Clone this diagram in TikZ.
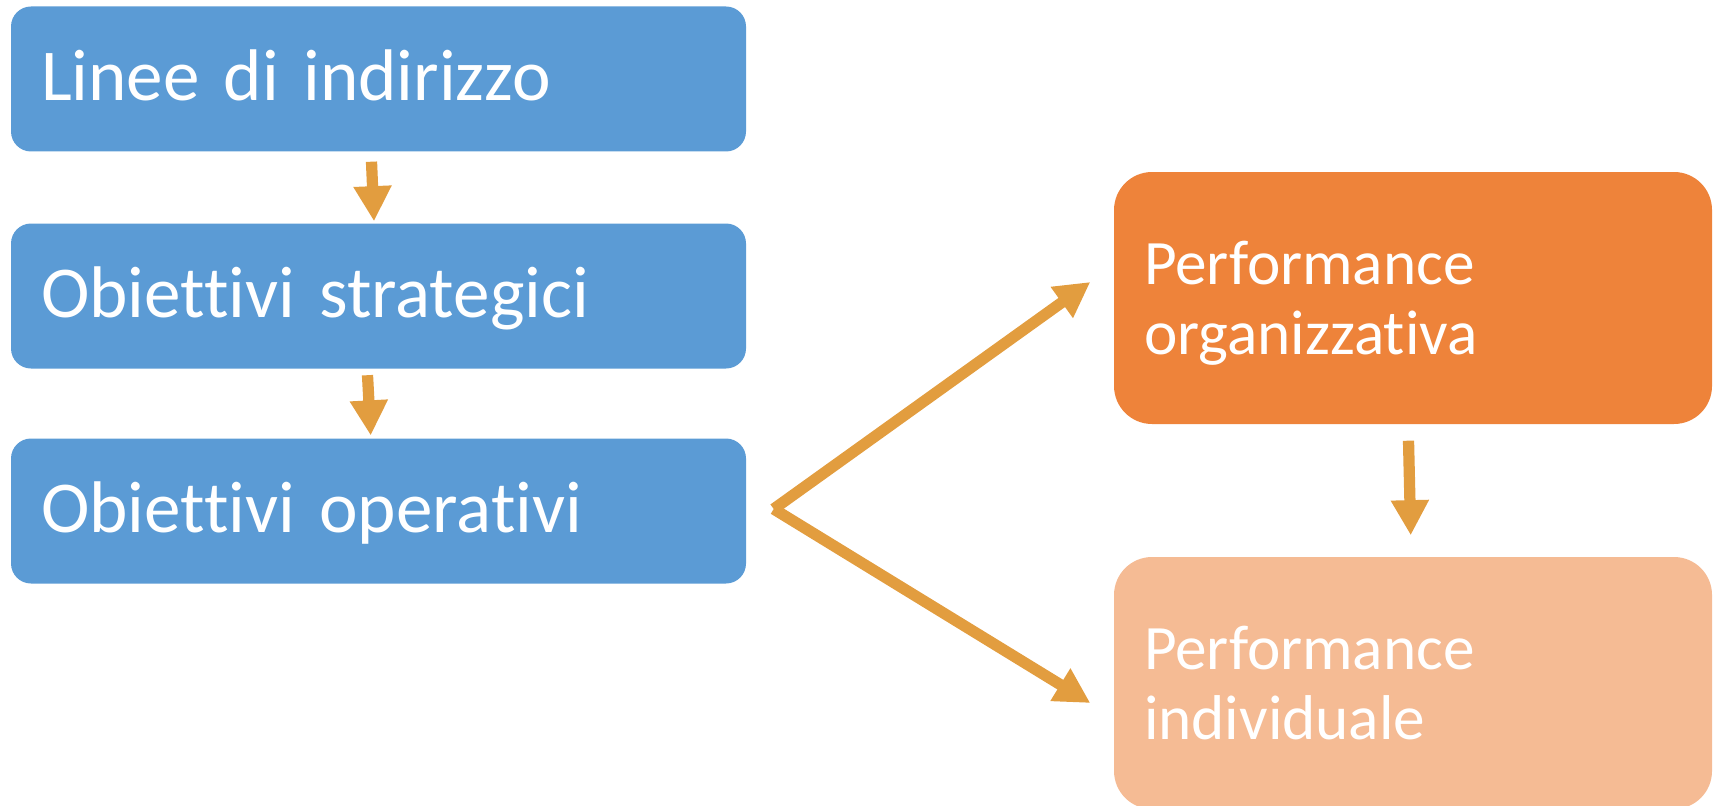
\documentclass[tikz,border=0pt]{standalone}
\usepackage{fontspec}
\setmainfont{Carlito}[RawFeature={-liga,-clig,-dlig}]
\usepackage{tikz}
\usetikzlibrary{arrows.meta}
\usetikzlibrary{positioning}
\definecolor{boxblue}{RGB}{91,155,213}
\definecolor{boxorange}{RGB}{238,131,58}
\definecolor{boxpeach}{RGB}{245,187,148}
\definecolor{arrorange}{RGB}{226,157,63}

\begin{document}
\begin{tikzpicture}[x=0.1mm,y=-0.1mm,
    bluebox/.style={rectangle,rounded corners=2mm,fill=boxblue,text=white,
      minimum width=73.5mm,minimum height=14.5mm,inner xsep=3mm,
      text width=67.5mm,align=left,font=\fontsize{20.8}{25}\selectfont,
      text height=13.6pt,text depth=1.6pt},
    perfbox/.style={rectangle,rounded corners=3.8mm,text=white,
      minimum width=59.8mm,minimum height=25.2mm,inner xsep=3mm,
      text width=53.8mm,align=left,font=\fontsize{18}{19.9}\selectfont,
      text height=12pt,text depth=19.9pt},
    arr/.style={draw=arrorange,line width=3.2pt,
      -{Triangle[width=10.2pt,length=10pt]}}]
      \useasboundingbox (0,0) rectangle (1720,805);
      \node[bluebox](LI) at (378.5,79) {Linee di indirizzo};
      \node[bluebox](OS) at (378.5,296) {Obiettivi strategici};
      \node[bluebox](OO) at (378.5,511) {Obiettivi operativi};
      \node[perfbox,fill=boxorange](PO) at (1413,298) {Performance\\organizzativa};
      \node[perfbox,fill=boxpeach](PI) at (1413,683) {Performance\\individuale};
      %%
      \draw[arr]([xshift=-0.7mm,yshift=-0.95mm]LI.south)--([xshift=-0.45mm,yshift=0.15mm]OS.north);
      \draw[arr]([xshift=-1.1mm,yshift=-0.6mm]OS.south)--([xshift=-0.78mm,yshift=0.23mm]OO.north);
      \draw[arr]([xshift=-0.45mm,yshift=-1.6mm]PO.south)--([xshift=-0.23mm,yshift=2.1mm]PI.north);
      %%
      \coordinate(F) at ([xshift=2.7mm,yshift=0.2mm]OO.east);
      \draw[arr](F)--([xshift=-2.3mm,yshift=1.6mm]PO.west);
      \draw[arr](F)--([xshift=-2.3mm,yshift=-2mm]PI.west);
    \end{tikzpicture}
\end{document}
